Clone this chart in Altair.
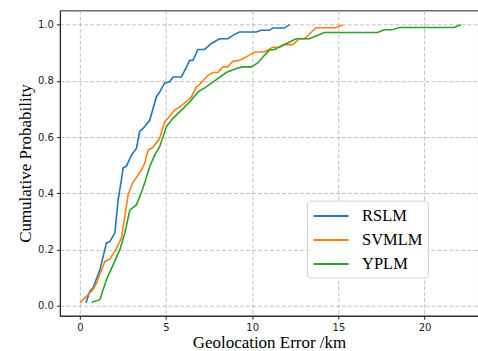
import altair as alt
import pandas as pd

models = ["RSLM", "SVMLM", "YPLM"]
colors = ["#1f77b4", "#ff7f0e", "#2ca02c"]

rslm_x = [0.35, 0.58, 0.77, 1.16, 1.54, 1.74, 2.03, 2.22, 2.41, 2.51, 2.70, 2.99, 3.28, 3.47, 3.67,
          4.05, 4.44, 4.63, 4.92, 5.21, 5.40, 5.89, 6.14, 6.37, 6.56, 6.85, 7.24, 7.63, 8.11, 8.59,
          8.88, 9.26, 10.23, 10.52, 11.0, 11.19, 11.87, 12.16]
rslm_y = [0.01, 0.052, 0.064, 0.128, 0.223, 0.229, 0.259, 0.377, 0.448, 0.49, 0.497, 0.536, 0.56, 0.62, 0.631,
          0.66, 0.743, 0.761, 0.793, 0.797, 0.814, 0.814, 0.844, 0.873, 0.873, 0.912, 0.912, 0.933, 0.95, 0.95,
          0.962, 0.974, 0.974, 0.98, 0.98, 0.988, 0.988, 1.0]

svmlm_x = [0.0, 0.19, 0.48, 0.77, 0.97, 1.45, 1.74, 2.03, 2.41, 2.61, 2.80, 3.05, 3.57, 3.76, 3.96,
           4.24, 4.63, 4.92, 5.11, 5.50, 5.79, 6.18, 6.47, 6.76, 6.95, 7.43, 7.72, 8.0, 8.30, 8.59,
           8.88, 9.26, 9.75, 10.13, 10.71, 11.19, 11.58, 11.87, 12.35, 12.74, 13.03, 13.70, 14.86, 15.25]
svmlm_y = [0.01, 0.022, 0.04, 0.058, 0.082, 0.158, 0.167, 0.194, 0.241, 0.318, 0.395, 0.436, 0.483, 0.507, 0.554,
           0.564, 0.596, 0.655, 0.667, 0.696, 0.708, 0.726, 0.743, 0.779, 0.788, 0.82, 0.83, 0.83, 0.85, 0.85,
           0.87, 0.873, 0.889, 0.903, 0.903, 0.92, 0.92, 0.929, 0.929, 0.95, 0.95, 0.989, 0.989, 1.0]

yplm_x = [0.68, 1.16, 1.54, 1.93, 2.32, 2.61, 2.90, 3.28, 3.55, 3.8, 4.05, 4.34, 4.63, 5.02, 5.40,
          5.79, 6.37, 6.85, 7.24, 7.82, 8.49, 9.07, 9.46, 9.94, 10.32, 10.71, 11.0, 11.29, 11.77, 12.26,
          12.55, 13.32, 13.70, 14.19, 17.27, 17.66, 18.14, 18.53, 21.71, 22.1]
yplm_y = [0.013, 0.022, 0.093, 0.146, 0.20, 0.259, 0.341, 0.359, 0.40, 0.445, 0.495, 0.536, 0.566, 0.637, 0.667,
          0.69, 0.725, 0.76, 0.775, 0.80, 0.83, 0.844, 0.85, 0.85, 0.864, 0.891, 0.909, 0.912, 0.927, 0.941,
          0.95, 0.95, 0.96, 0.972, 0.972, 0.982, 0.982, 0.99, 0.99, 1.0]

x_ticks = [0, 5, 10, 15, 20]
y_ticks = [0.0, 0.2, 0.4, 0.6, 0.8, 1.0]

rows = []
for name, xs, ys in [("RSLM", rslm_x, rslm_y), ("SVMLM", svmlm_x, svmlm_y), ("YPLM", yplm_x, yplm_y)]:
    for i, (x, y) in enumerate(zip(xs, ys)):
        rows.append({"model": name, "err": x, "prob": y, "i": i})
df = pd.DataFrame(rows)

chart = alt.Chart(df).mark_line(strokeWidth=1.6, clip=True).encode(
    x=alt.X("err:Q",
            scale=alt.Scale(domain=[-1.16, 23.1], nice=False, zero=False),
            axis=alt.Axis(title="Geolocation Error /km", values=x_ticks, format="d", titlePadding=2)),
    y=alt.Y("prob:Q",
            scale=alt.Scale(domain=[-0.035, 1.051], nice=False, zero=False),
            axis=alt.Axis(title="Cumulative Probability", values=y_ticks, format=".1f", titlePadding=3)),
    color=alt.Color("model:N",
                    scale=alt.Scale(domain=models, range=colors),
                    legend=alt.Legend(title=None, orient="none", legendX=247.7, legendY=190.7,
                                      symbolType="M-1.75,0H1.75", symbolSize=400, symbolStrokeWidth=2,
                                      symbolOffset=8.7,
                                      labelFont="Liberation Serif", labelFontSize=16.5, labelColor="#000",
                                      labelOffset=20, rowPadding=4, padding=4.4,
                                      fillColor="rgba(255,255,255,0.85)", strokeColor="#d0d0d0",
                                      cornerRadius=3)),
    order="i:Q",
).properties(
    width=419, height=306,
    padding={"left": 60, "top": 10, "right": 0, "bottom": 35},
    autosize=alt.AutoSizeParams(type="none"),
    background="white",
).configure_view(
    stroke="#222", strokeWidth=1
).configure_axis(
    grid=True, gridColor="#b0b0b0", gridDash=[4, 2], gridWidth=0.8,
    domainColor="#222", domainWidth=1, tickColor="#222", tickSize=3.5,
    labelFont="DejaVu Sans", labelFontSize=10, labelColor="#222", labelPadding=3,
    titleFont="Liberation Serif", titleFontSize=17, titleFontWeight="normal", titleColor="#000",
).configure_legend(
    labelFont="Liberation Serif", labelFontSize=16.5, labelColor="#000"
)

chart.save("out.html", embed_options={"renderer": "svg", "actions": False})
